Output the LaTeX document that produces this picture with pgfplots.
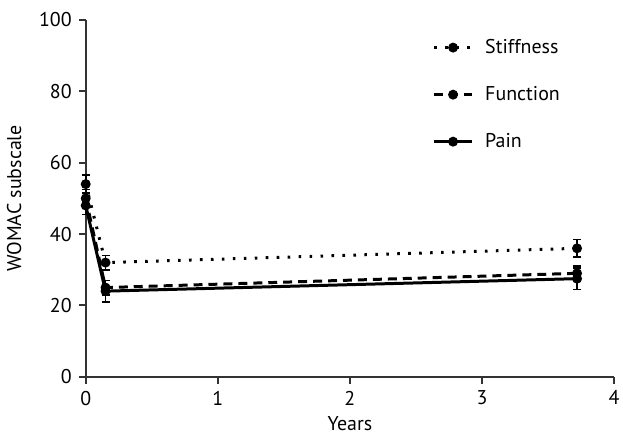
\documentclass[border=0pt]{standalone}
\usepackage{pgfplots}
\pgfplotsset{compat=1.18}
\usetikzlibrary{calc}
\usepackage{fontspec}
\setmainfont{PT Sans}
\pgfplotsset{
  errs/.style={
    error bars/y dir=both,
    error bars/y explicit,
    error bars/error bar style={line width=0.8pt, solid},
    error bars/error mark options={rotate=90, mark size=2pt, line width=0.8pt, solid},
  },
}
\begin{document}
\begin{tikzpicture}[font=\fontsize{10}{12}\selectfont]
\begin{axis}[
  scale only axis,
  width=265pt, height=179pt,
  xmin=0, xmax=4, ymin=0, ymax=100,
  xtick={0,1,2,3,4}, ytick={0,20,40,60,80,100},
  axis x line*=bottom, axis y line*=left,
  axis line style={line width=1pt, color=black!80, -},
  tick style={line width=1pt, color=black!80},
  major tick length=3.5pt,
  tick align=outside,
  xlabel={Years}, ylabel={WOMAC subscale},
  xlabel style={yshift=1pt},
  ylabel style={yshift=2pt},
  /pgf/number format/assume math mode=true,
  legend style={draw=none, fill=none, at={(0.645,0.97)}, anchor=north west,
    row sep=11pt, font=\fontsize{10}{12}\selectfont},
  legend cell align=left,
  legend image code/.code={
    \draw[#1] (0cm,0cm) -- (0.66cm,0cm);
    \draw[#1,only marks] plot coordinates {(0.33cm,0cm)};
    \path (0.8cm,0cm);
  },
  clip=false,
]
\addplot[black, line width=1.5pt, dash pattern=on 1.3pt off 4.2pt, mark=*, mark size=1.7pt, mark options={solid}, errs]
  coordinates {(0,54) +- (0,2.5) (0.15,32) +- (0,2) (3.72,36) +- (0,2.5)};
\addlegendentry{Stiffness}
\addplot[black, line width=1.5pt, dash pattern=on 4.5pt off 3pt, mark=*, mark size=1.7pt, mark options={solid}, errs]
  coordinates {(0,50) +- (0,2.5) (0.15,25) +- (0,2) (3.72,29) +- (0,2)};
\addlegendentry{Function}
\addplot[black, line width=1.5pt, solid, mark=*, mark size=1.7pt, errs]
  coordinates {(0,48) +- (0,2.5) (0.15,24) +- (0,3) (3.72,27.5) +- (0,3)};
\addlegendentry{Pain}
\coordinate (bl) at (rel axis cs:0,0);
\coordinate (tr) at (rel axis cs:1,1);
\end{axis}
\pgfresetboundingbox
\path[use as bounding box] ($(bl)+(-43pt,-30pt)$) rectangle ($(tr)+(4.5pt,10pt)$);
\end{tikzpicture}
\end{document}
